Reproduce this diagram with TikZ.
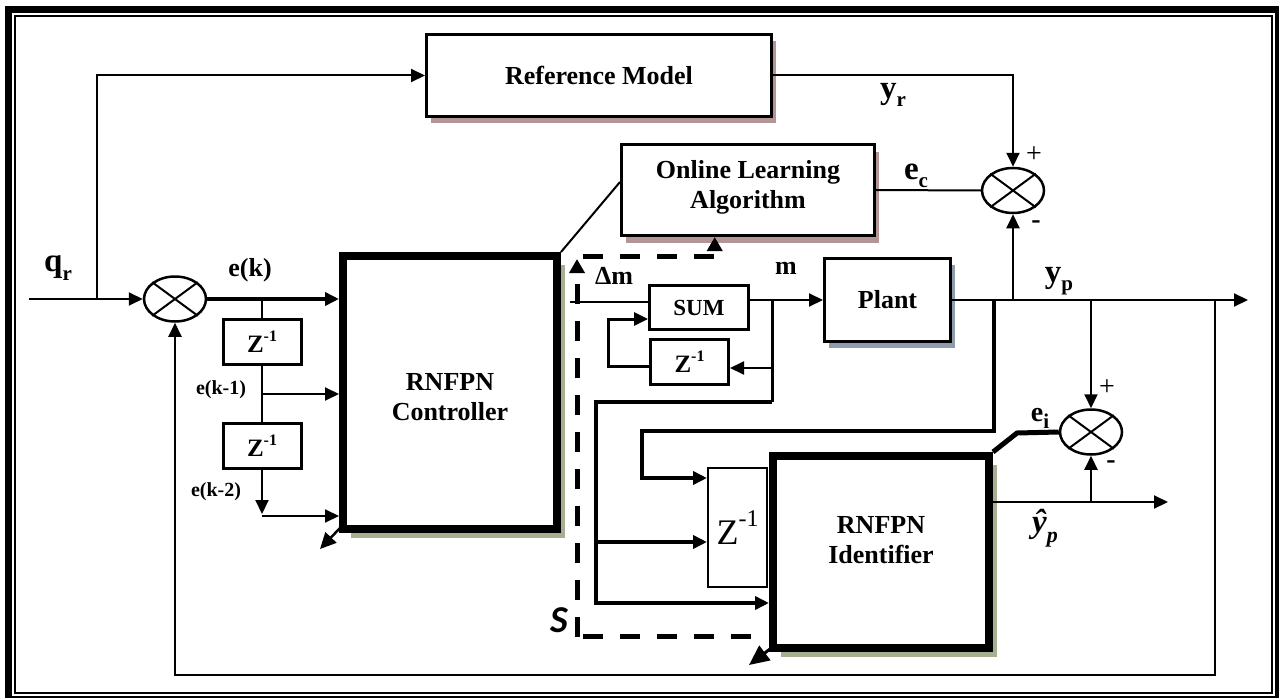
\documentclass[tikz,border=0pt]{standalone}
\usepackage{fontspec}
\setmainfont{Liberation Serif}
\newfontfamily\carl{Carlito}
\usetikzlibrary{arrows.meta,calc,shapes.geometric,shadows}
\definecolor{shref}{HTML}{B39595}
\definecolor{shgrn}{HTML}{A7AF93}
\definecolor{shblu}{HTML}{8F9CAC}
\newcommand\tbox{\fontsize{26pt}{30pt}\selectfont\bfseries}
\newcommand\tlab{\fontsize{33pt}{34pt}\selectfont\bfseries}
\newcommand\tsm{\fontsize{20pt}{22pt}\selectfont\bfseries}
\newcommand\mysub[1]{\raisebox{-0.25em}{\fontsize{21pt}{21pt}\selectfont\bfseries #1}}
\newcommand\zinv{Z\raisebox{0.45em}{\fontsize{16pt}{16pt}\selectfont\bfseries -1}}
\begin{document}
\begin{tikzpicture}[x=1pt,y=-1pt,
  blk/.style={draw, line width=3pt, fill=white, inner sep=0pt, align=center, font=\tbox},
  big/.style={draw, line width=8pt, fill=white, inner sep=0pt, align=center, font=\tbox},
  sumj/.style={draw, ellipse, line width=2.5pt, minimum width=62pt, minimum height=45pt, inner sep=0pt},
  ln/.style={line width=2pt},
  tk/.style={line width=4.5pt},
  arr/.style={-{Triangle[length=14pt,width=13pt]}},
  dsh/.style={line width=5pt, dash pattern=on 20pt off 17pt},
  lbl/.style={inner sep=0pt, font=\tlab},
  shR/.style={drop shadow={shadow xshift=4pt,shadow yshift=-7pt,fill=shref,opacity=1}},
  shB/.style={drop shadow={shadow xshift=4.5pt,shadow yshift=-6.5pt,fill=shblu,opacity=1}},
  shG/.style={drop shadow={shadow xshift=7.5pt,shadow yshift=-9pt,fill=shgrn,opacity=1}},
]
\useasboundingbox (0,0) rectangle (1279,698);
% frame
\draw[line width=7pt] (8.5,9.5) rectangle (1278.5,699.5);
\draw[line width=1.5pt] (15,16) rectangle (1272,693);

% blocks
\node[blk, shR, minimum width=345pt, minimum height=82pt] (ref) at (599,75.5) {Reference Model};
\node[blk, shR, minimum width=253pt, minimum height=91pt] (ola) at (748,190) {\raisebox{3pt}[\height][\depth]{\begin{tabular}{@{}c@{}}Online Learning\\Algorithm\end{tabular}}};
\node[blk, shB, minimum width=126pt, minimum height=83pt] (plant) at (887.5,300) {Plant};
\node[blk, minimum width=99pt, minimum height=44pt, font=\fontsize{23pt}{25pt}\selectfont\bfseries] (sum) at (699,307.5) {SUM};
\node[blk, minimum width=78pt, minimum height=45pt, font=\fontsize{25pt}{25pt}\selectfont\bfseries] (zs) at (689.5,362) {\zinv};
\node[blk, minimum width=78pt, minimum height=45pt, font=\fontsize{25pt}{25pt}\selectfont\bfseries] (z1) at (262,342) {\zinv};
\node[blk, minimum width=78pt, minimum height=45pt, font=\fontsize{25pt}{25pt}\selectfont\bfseries] (z2) at (262,446) {\zinv};
\node[big, shG, minimum width=214pt, minimum height=273pt] (ctrl) at (450,392.5) {\raisebox{-7pt}[\height][\depth]{\begin{tabular}{@{}c@{}}RNFPN\\Controller\end{tabular}}};
\node[draw, line width=2pt, fill=white, minimum width=59pt, minimum height=119pt, inner sep=0pt, font=\fontsize{36pt}{36pt}\selectfont] (zb) at (737.5,527.5) {Z\raisebox{0.5em}{\fontsize{24pt}{24pt}\selectfont -1}};
\node[big, shG, minimum width=216pt, minimum height=192pt] (id) at (881,552) {\raisebox{10pt}[\height][\depth]{\begin{tabular}{@{}c@{}}RNFPN\\Identifier\end{tabular}}};

% summing junctions
\node[sumj] (j1) at (175,299) {};
\node[sumj] (j2) at (1013,190.5) {};
\node[sumj] (j3) at (1091,432) {};
\foreach \j in {j1,j2,j3}{
  \draw[line width=2pt] (\j.north west) -- (\j.south east) (\j.north east) -- (\j.south west);
}

% labels
\node[lbl] (qr) at (58,268) {q\mysub{r}};
\node[lbl] (yr) at (893,95) {y\mysub{r}};
\node[lbl] (ec) at (916,176) {e\mysub{c}};
\node[lbl] (yp) at (1059,281) {y\mysub{p}};
\node[lbl, font=\fontsize{28pt}{28pt}\selectfont\bfseries] (ei) at (1040,418) {e\mysub{i}};
\node[inner sep=0pt, font=\tbox] (ek) at (250,270) {e(k)};
\node[inner sep=0pt, font=\tsm] (ek1) at (221,390) {e(k-1)};
\node[inner sep=0pt, font=\tsm] (ek2) at (216,492) {e(k-2)};
\node[inner sep=0pt, font=\tbox] (dm) at (614,276) {Δm};
\node[inner sep=0pt, font=\tbox] (mm) at (786,268) {m};
\node[inner sep=0pt, font=\carl\fontsize{38pt}{38pt}\selectfont\bfseries\itshape] (S) at (559,620) {S};
\node[inner sep=0pt, font=\tlab\itshape] (yh) at (1045,528) {ŷ\raisebox{-0.3em}{\fontsize{22pt}{22pt}\selectfont\bfseries\itshape p}};
\node[inner sep=0pt, font=\fontsize{28pt}{28pt}\selectfont] (p2) at (1034,155) {+};
\node[inner sep=0pt, font=\fontsize{28pt}{28pt}\selectfont\bfseries] (m2) at (1036,225) {-};
\node[inner sep=0pt, font=\fontsize{28pt}{28pt}\selectfont] (p3) at (1107,388) {+};
\node[inner sep=0pt, font=\fontsize{28pt}{28pt}\selectfont\bfseries] (m3) at (1111,465) {-};

% connectors
\coordinate (in) at (29,299);
\coordinate (br) at (97,299);
\draw[ln,arr] (in) -- (j1.west);
\draw[ln,arr] (br) |- (ref.west);
\draw[ln,arr] (ref.east) -| (j2.north);
\draw[ln] (ola.east) -- (j2.west);
\coordinate (out) at (1248,300);
\draw[ln,arr] (plant.east) -- (out);
\coordinate (ypj) at (1013,300);
\draw[ln,arr] (ypj) -- (j2.south);
\coordinate (fb) at (1215,300);
\coordinate (fbc) at (1215,675);
\draw[ln,arr] (fb) -- (fbc) -| (j1.south);
\draw[tk,arr] (j1.east) -- (ctrl.west |- j1.east);
\coordinate (t1) at (262,299);
\draw[ln] (t1) -- (z1.north);
\draw[ln] (z1.south) -- (z2.north);
\coordinate (t2) at (262,394);
\draw[ln,arr] (t2) -- (ctrl.west |- t2);
\coordinate (t3) at (262,514);
\draw[ln,arr] (z2.south) -- (t3);
\coordinate (t4) at (262,516);
\draw[ln,arr] (t4) -- (ctrl.west |- t4);
\draw[line width=2.5pt, -{Triangle[length=16pt,width=15pt]}] ($(ctrl.south west)+(1,-5)$) -- ++(-20,21);
\draw[ln] (ctrl.north east) -- ($(ola.west)+(0,-8)$);

% dashed S loop
\coordinate (ds1) at (577,637);
\coordinate (ds2) at (577,259);
\draw[dsh,-{Triangle[length=14pt,width=15pt]}] (ds1) -- (ds2);
\coordinate (ds3) at (583,636);
\coordinate (ds4) at (754,636);
\draw[dsh] (ds3) -- (ds4);
\coordinate (ds5) at (583,256);
\coordinate (olain) at ($(ola.south west)!0.37!(ola.south east)$);
\draw[dsh,-{Triangle[length=14pt,width=15pt]}] (ds5) -| (olain);

% SUM region
\coordinate (dmi) at (570,302);
\draw[ln] (dmi) -- (sum.west |- dmi);
\draw[ln,arr] (sum.east |- plant.west) -- (plant.west);
\coordinate (mt) at (772,300);
\coordinate (mb) at (772,402);
\draw[line width=3pt] (mt) -- (mb);
\coordinate (zsi) at (772,368);
\draw[ln,arr] (zsi) -- (zs.east |- zsi);
\coordinate (lp0) at (649,366);
\coordinate (lp) at (608,366);
\coordinate (si) at (648,319);
\draw[line width=3pt,arr] (lp0) -- (lp) |- (si);

% path A
\coordinate (pa1) at (596,402);
\coordinate (pa2) at (596,603);
\coordinate (pa3) at (596,542);
\draw[tk,arr] (mb) -- (pa1) -- (pa2) -- (id.west |- pa2);
\draw[tk,arr] (pa3) -- (zb.west |- pa3);
% path B
\coordinate (pb0) at (994,300);
\coordinate (pb1) at (994,431);
\coordinate (pb2) at (642,431);
\coordinate (pb3) at (642,478);
\draw[tk,arr] (pb0) -- (pb1) -- (pb2) -- (pb3) -- (zb.west |- pb3);

% identifier outputs
\coordinate (ei1) at (1017,433);
\draw[line width=5pt] (id.north east) -- (ei1) -- (j3.west);
\coordinate (j3t) at (1091,300);
\draw[ln,arr] (j3t) -- (j3.north);
\coordinate (yhs) at (993,502);
\coordinate (yhe) at (1168,502);
\coordinate (yhj) at (1091,502);
\draw[ln,arr] (id.east |- yhs) -- (yhe);
\draw[ln,arr] (yhj) -- (j3.south);
\draw[line width=3pt, -{Triangle[length=20pt,width=18pt]}] ($(id.south west)+(1,-3)$) -- ++(-21,16);
\end{tikzpicture}
\end{document}
